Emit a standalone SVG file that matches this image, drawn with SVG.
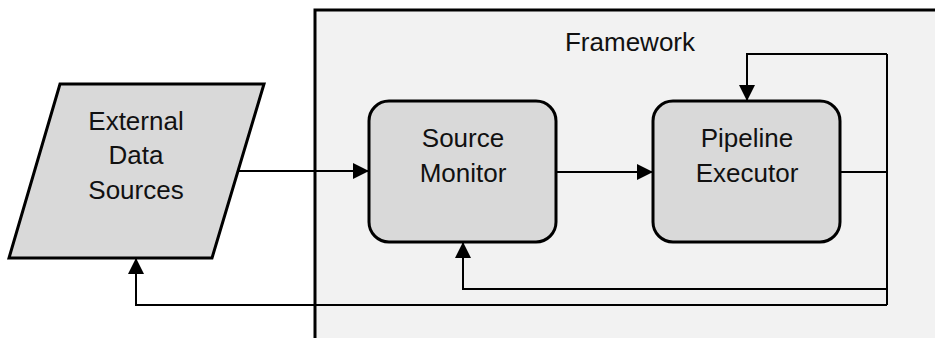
<svg xmlns="http://www.w3.org/2000/svg" width="935" height="338" viewBox="0 0 935 338">
  <defs>
    <marker id="arrow" markerUnits="userSpaceOnUse" markerWidth="16" markerHeight="16" viewBox="0 0 16 16" refX="15" refY="8" orient="auto">
      <path d="M0,0 L16,8 L0,16 z" fill="#000"/>
    </marker>
    <style>
      .node { fill: #d9d9d9; stroke: #000; stroke-width: 3; }
      .frame { fill: #f2f2f2; stroke: #000; stroke-width: 3; }
      .label { font-family: "Liberation Sans", Arial, sans-serif; font-size: 26px; fill: #111; text-anchor: middle; }
      .edge { fill: none; stroke: #000; stroke-width: 2; }
      .arrow { marker-end: url(#arrow); }
    </style>
  </defs>

  <!-- container -->
  <g id="framework">
    <rect class="frame" x="315" y="10" width="700" height="400"/>
    <text class="label" x="630" y="51">Framework</text>
  </g>

  <!-- nodes -->
  <g id="external-data-sources">
    <polygon class="node" points="60,84 264,84 212,258 9,258"/>
    <text class="label" x="136" y="130">External</text>
    <text class="label" x="136" y="164">Data</text>
    <text class="label" x="136" y="199">Sources</text>
  </g>

  <g id="source-monitor">
    <rect class="node" x="369" y="101" width="187" height="141" rx="20" ry="20"/>
    <text class="label" x="463" y="147">Source</text>
    <text class="label" x="463" y="182">Monitor</text>
  </g>

  <g id="pipeline-executor">
    <rect class="node" x="653" y="101" width="187" height="141" rx="20" ry="20"/>
    <text class="label" x="747" y="147">Pipeline</text>
    <text class="label" x="747" y="182">Executor</text>
  </g>

  <!-- connectors -->
  <g id="connectors">
    <path class="edge arrow" d="M238,171 H368"/>
    <path class="edge arrow" d="M556,172 H652"/>
    <path class="edge" d="M840,172 H887"/>
    <path class="edge" d="M887,54 V305"/>
    <path class="edge arrow" d="M887,54 H747 V100"/>
    <path class="edge arrow" d="M887,289 H463 V243"/>
    <path class="edge arrow" d="M887,305 H136 V259"/>
  </g>
</svg>
